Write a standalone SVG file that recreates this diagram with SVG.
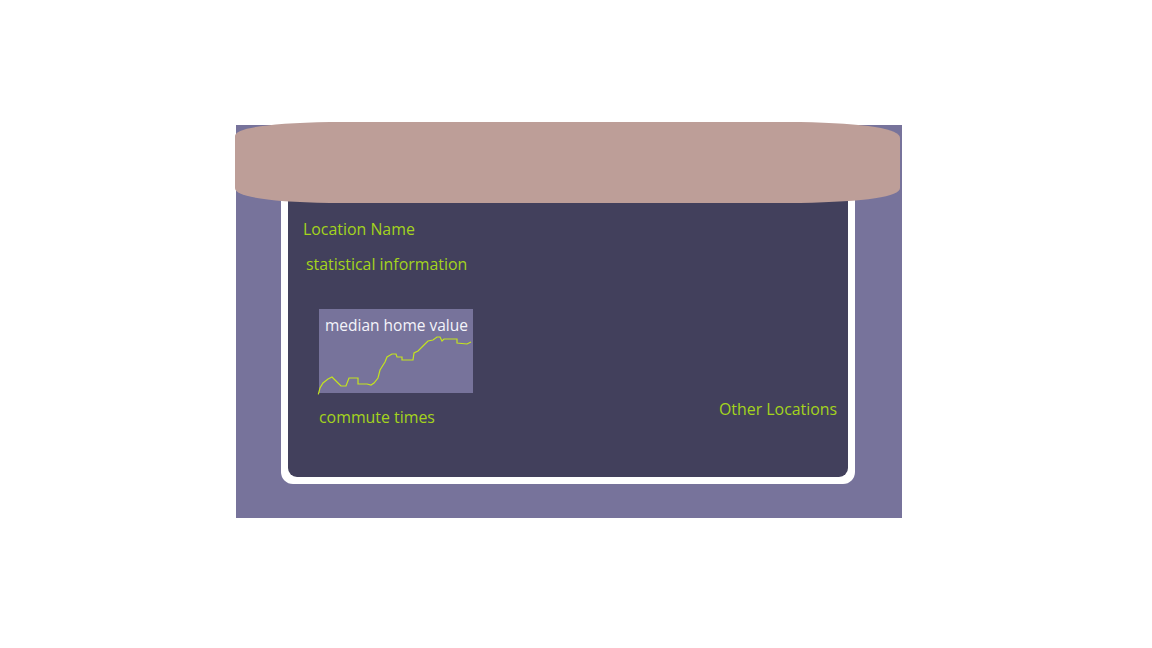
<svg xmlns="http://www.w3.org/2000/svg" width="1152" height="648" viewBox="0 0 1152 648">
<style>
.lbl{font-family:"Open Sans","Noto Sans","Liberation Sans",sans-serif;font-size:15.9px;fill:#a4d41c}
.wlbl{font-family:"Open Sans","Noto Sans","Liberation Sans",sans-serif;font-size:15.5px;fill:#f4f4fa}
</style>
<rect width="1152" height="648" fill="#ffffff"/>
<g id="outer">
<rect x="236" y="125" width="666" height="393" fill="#77739b"/>
</g>
<g id="panel">
<rect x="281" y="180" width="574" height="304" rx="12" fill="#ffffff"/>
<rect x="288" y="180" width="560" height="297" rx="9" fill="#42405c"/>
</g>
<g id="header">
<path d="M330 122 L800 122 Q900 124 900 138 L900 188 Q900 201 800 203 L330 203 Q235 201 235 188 L235 136 Q235 124 330 122 Z" fill="#bd9e98"/>
</g>
<g id="location-name"><text class="lbl" x="303" y="235">Location Name</text></g>
<g id="statistical-information"><text class="lbl" x="306" y="270">statistical information</text></g>
<g id="median-home-value">
<rect x="319" y="309" width="154" height="84" fill="#77739b"/>
<text class="wlbl" x="325" y="331">median home value</text>
<polyline fill="none" stroke="#c4e41e" stroke-width="1.2" points="318.3,394.3 320,388 323,383 328,379 332,377 335,380 338,383 341,386 346,386 349,378 358,378 358,384 367,384 371,385 374,383 378,378 380,370 385,362 387,357 392,354 396,354 397,357 402,357 402,360 413,360 414,353 418,351 423,346 428,341 433,340 437,337 440,337 442,341 444,339 447,339 457,339 457,343 467,344 471,342"/>
</g>
<g id="commute-times"><text class="lbl" x="319" y="423">commute times</text></g>
<g id="other-locations"><text class="lbl" x="719" y="415">Other Locations</text></g>
<g id="connectors"></g>
</svg>
